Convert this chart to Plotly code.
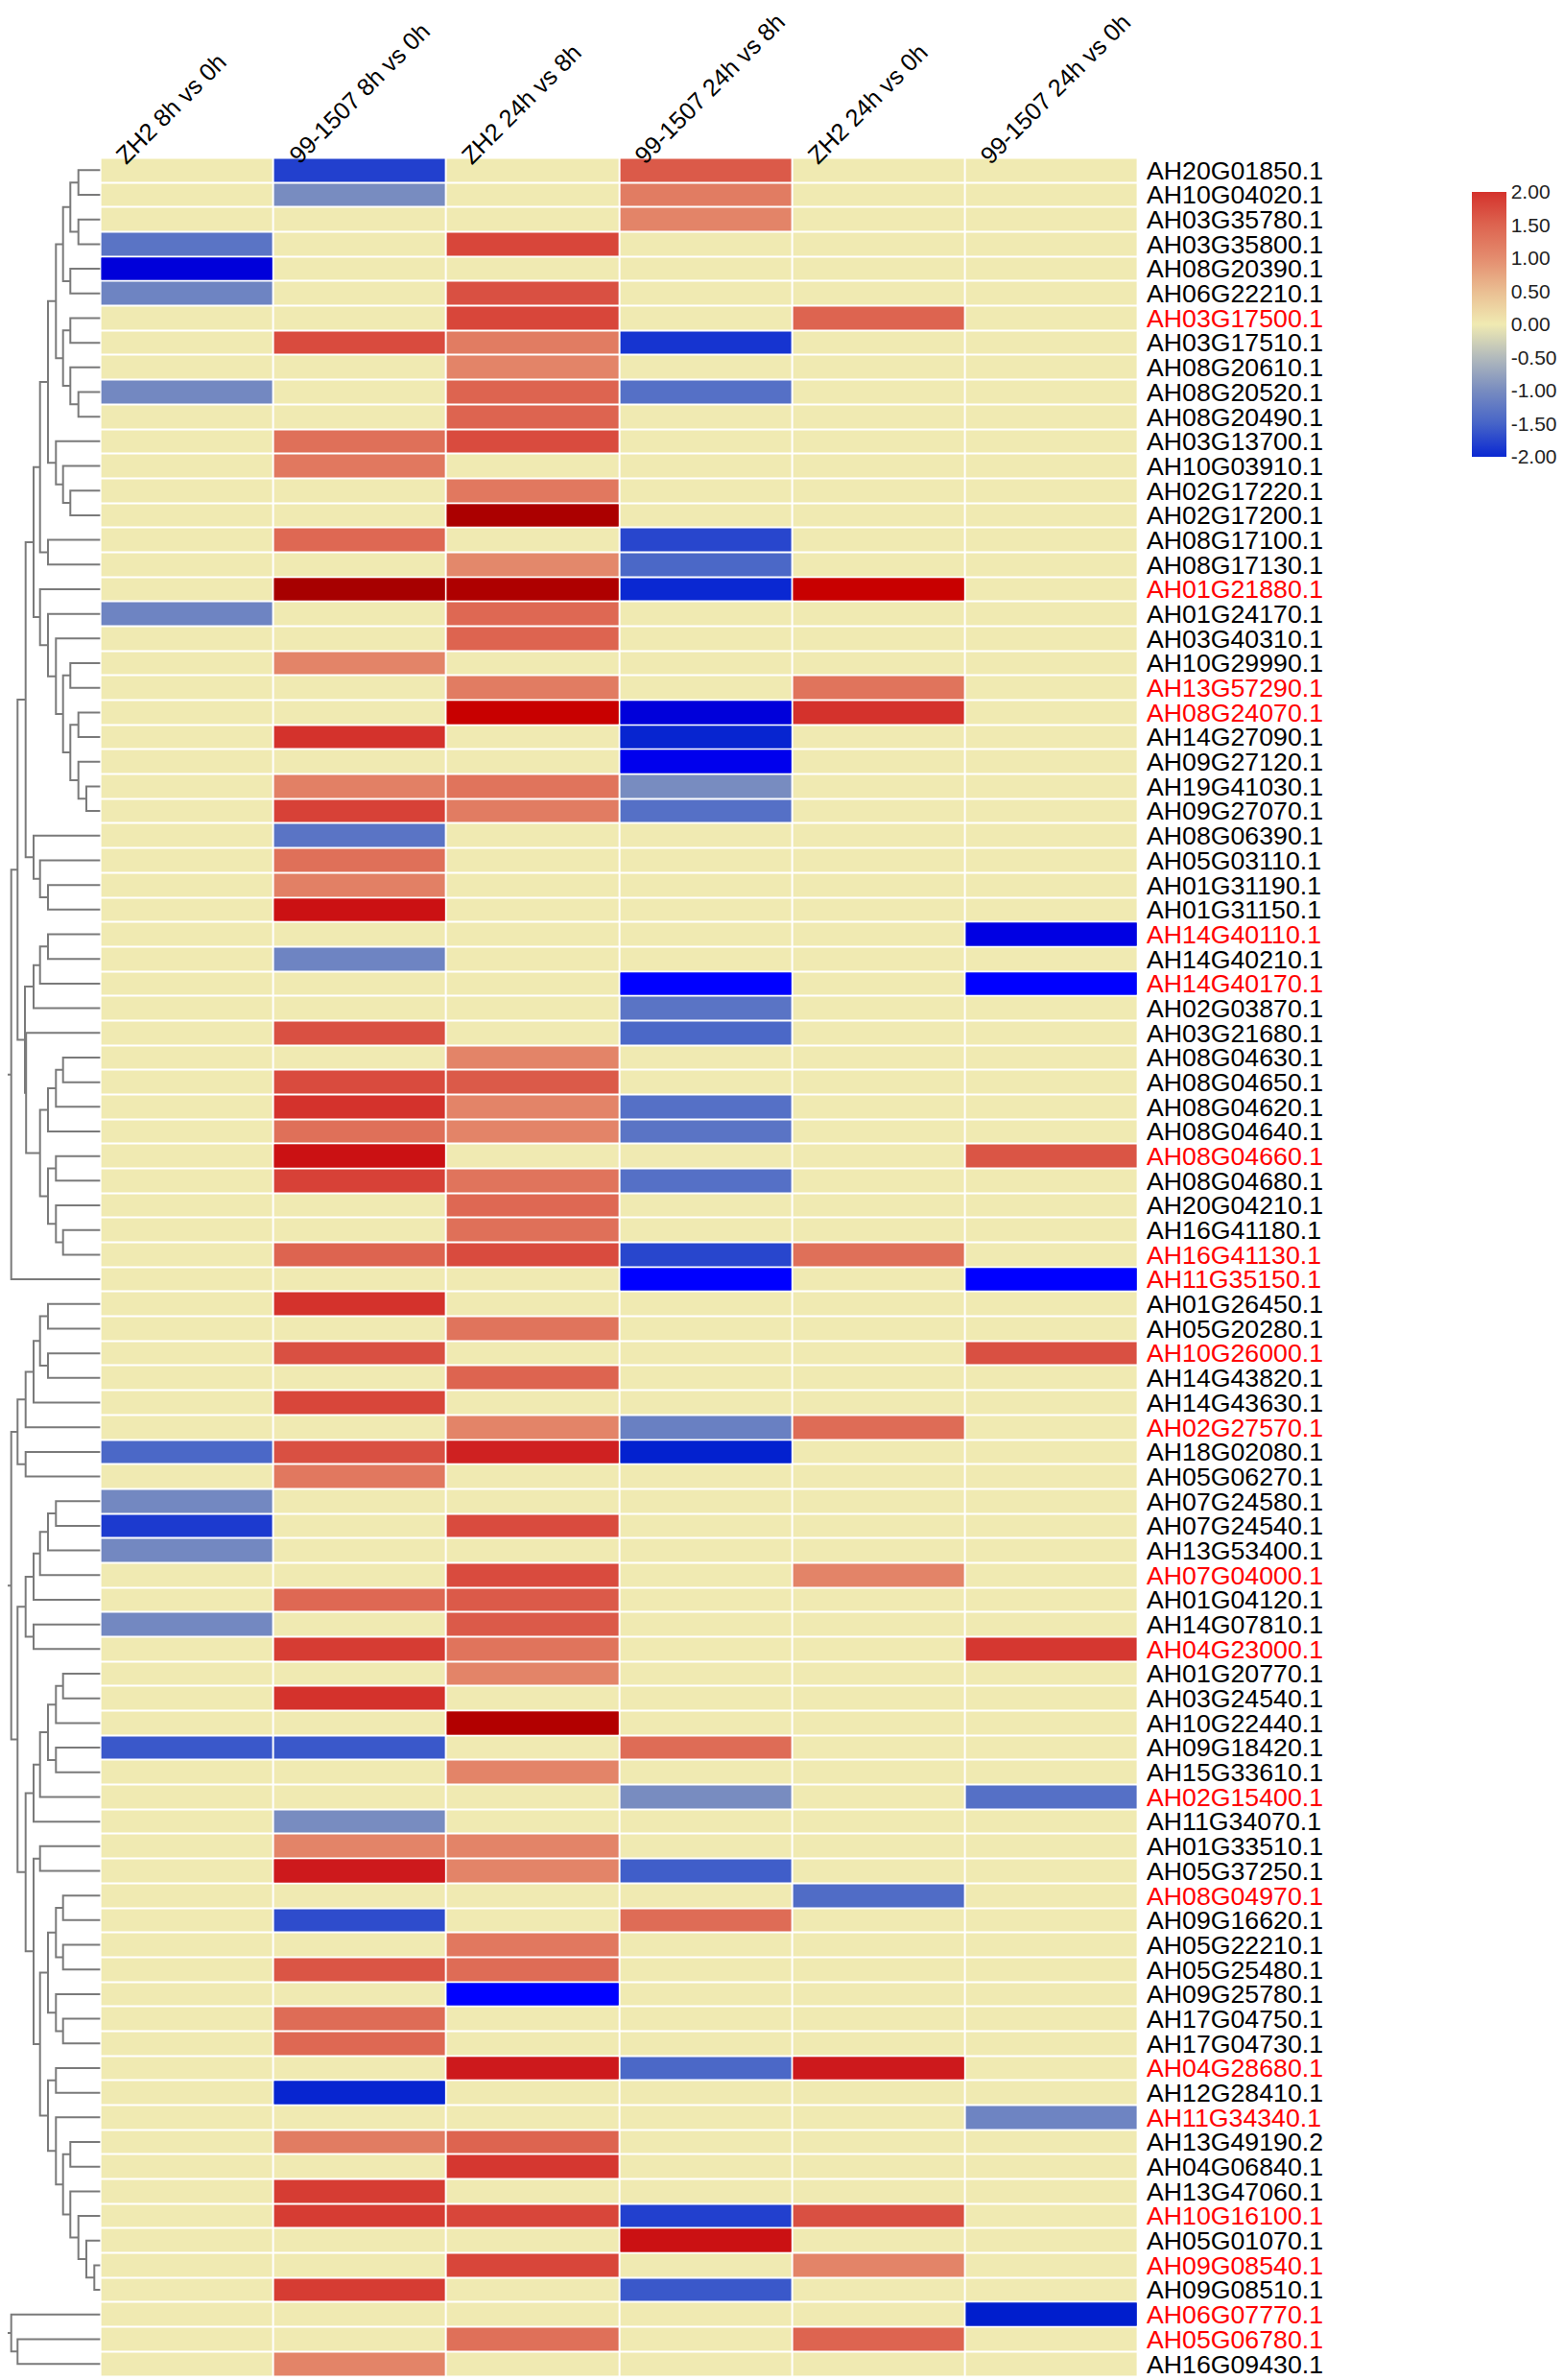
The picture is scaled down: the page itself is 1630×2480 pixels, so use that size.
import plotly.graph_objects as go

columns = ["ZH2 8h vs 0h", "99-1507 8h vs 0h", "ZH2 24h vs 8h",
           "99-1507 24h vs 8h", "ZH2 24h vs 0h", "99-1507 24h vs 0h"]

genes = [
    "AH20G01850.1", "AH10G04020.1", "AH03G35780.1", "AH03G35800.1", "AH08G20390.1",
    "AH06G22210.1", "AH03G17500.1", "AH03G17510.1", "AH08G20610.1", "AH08G20520.1",
    "AH08G20490.1", "AH03G13700.1", "AH10G03910.1", "AH02G17220.1", "AH02G17200.1",
    "AH08G17100.1", "AH08G17130.1", "AH01G21880.1", "AH01G24170.1", "AH03G40310.1",
    "AH10G29990.1", "AH13G57290.1", "AH08G24070.1", "AH14G27090.1", "AH09G27120.1",
    "AH19G41030.1", "AH09G27070.1", "AH08G06390.1", "AH05G03110.1", "AH01G31190.1",
    "AH01G31150.1", "AH14G40110.1", "AH14G40210.1", "AH14G40170.1", "AH02G03870.1",
    "AH03G21680.1", "AH08G04630.1", "AH08G04650.1", "AH08G04620.1", "AH08G04640.1",
    "AH08G04660.1", "AH08G04680.1", "AH20G04210.1", "AH16G41180.1", "AH16G41130.1",
    "AH11G35150.1", "AH01G26450.1", "AH05G20280.1", "AH10G26000.1", "AH14G43820.1",
    "AH14G43630.1", "AH02G27570.1", "AH18G02080.1", "AH05G06270.1", "AH07G24580.1",
    "AH07G24540.1", "AH13G53400.1", "AH07G04000.1", "AH01G04120.1", "AH14G07810.1",
    "AH04G23000.1", "AH01G20770.1", "AH03G24540.1", "AH10G22440.1", "AH09G18420.1",
    "AH15G33610.1", "AH02G15400.1", "AH11G34070.1", "AH01G33510.1", "AH05G37250.1",
    "AH08G04970.1", "AH09G16620.1", "AH05G22210.1", "AH05G25480.1", "AH09G25780.1",
    "AH17G04750.1", "AH17G04730.1", "AH04G28680.1", "AH12G28410.1", "AH11G34340.1",
    "AH13G49190.2", "AH04G06840.1", "AH13G47060.1", "AH10G16100.1", "AH05G01070.1",
    "AH09G08540.1", "AH09G08510.1", "AH06G07770.1", "AH05G06780.1", "AH16G09430.1",
]

highlighted = [
    "AH03G17500.1", "AH01G21880.1", "AH13G57290.1", "AH08G24070.1", "AH14G40110.1",
    "AH14G40170.1", "AH08G04660.1", "AH16G41130.1", "AH11G35150.1", "AH10G26000.1",
    "AH02G27570.1", "AH07G04000.1", "AH04G23000.1", "AH02G15400.1", "AH08G04970.1",
    "AH04G28680.1", "AH11G34340.1", "AH10G16100.1", "AH09G08540.1", "AH06G07770.1",
    "AH05G06780.1",
]

zh2_8h_vs_0h = [
    0, 0, 0, -1.3, -2.6, -1.1, 0, 0, 0, -1.05,
    0, 0, 0, 0, 0, 0, 0, 0, -1.1, 0,
    0, 0, 0, 0, 0, 0, 0, 0, 0, 0,
    0, 0, 0, 0, 0, 0, 0, 0, 0, 0,
    0, 0, 0, 0, 0, 0, 0, 0, 0, 0,
    0, 0, -1.45, 0, -1.05, -1.85, -1.05, 0, 0, -1.05,
    0, 0, 0, 0, -1.6, 0, 0, 0, 0, 0,
    0, 0, 0, 0, 0, 0, 0, 0, 0, 0,
    0, 0, 0, 0, 0, 0, 0, 0, 0, 0,
]
l99_8h_vs_0h = [
    -1.8, -1.0, 0, 0, 0, 0, 0, 1.75, 0, 0,
    0, 1.35, 1.25, 0, 0, 1.45, 0, 3.3, 0, 0,
    1.1, 0, 0, 2.0, 0, 1.15, 1.85, -1.3, 1.35, 1.15,
    2.4, 0, -1.1, 0, 0, 1.7, 0, 1.75, 2.0, 1.35,
    2.4, 1.85, 0, 0, 1.5, 0, 2.0, 0, 1.7, 0,
    1.8, 0, 1.7, 1.25, 0, 0, 0, 0, 1.45, 0,
    1.9, 0, 2.05, 0, -1.6, 0, 0, -1.0, 1.1, 2.3,
    0, -1.7, 0, 1.65, 0, 1.4, 1.45, 0, -2.1, 0,
    1.2, 0, 1.9, 1.9, 0, 0, 1.9, 0, 0, 1.1,
]
zh2_24h_vs_8h = [
    0, 0, 0, 1.8, 0, 1.7, 1.8, 1.2, 1.1, 1.5,
    1.5, 1.75, 0, 1.25, 3.2, 0, 1.05, 3.1, 1.45, 1.5,
    0, 1.2, 2.6, 0, 0, 1.3, 1.2, 0, 0, 0,
    0, 0, 0, 0, 0, 0, 1.1, 1.6, 1.1, 1.1,
    0, 1.3, 1.45, 1.35, 1.75, 0, 0, 1.3, 0, 1.5,
    0, 1.1, 2.2, 0, 0, 1.75, 0, 1.75, 1.6, 1.6,
    1.3, 1.1, 0, 3.0, 0, 1.1, 0, 0, 1.1, 1.1,
    0, 0, 1.25, 1.4, -3.0, 0, 0, 2.3, 0, 0,
    1.5, 1.95, 0, 1.8, 0, 1.8, 0, 0, 1.35, 0,
]
l99_24h_vs_8h = [
    1.6, 1.2, 1.1, 0, 0, 0, 0, -1.9, 0, -1.35,
    0, 0, 0, 0, 0, -1.75, -1.45, -2.05, 0, 0,
    0, 0, -2.6, -2.1, -2.8, -1.0, -1.35, 0, 0, 0,
    0, 0, 0, -3.0, -1.3, -1.45, 0, 0, -1.35, -1.3,
    0, -1.35, 0, 0, -1.75, -3.0, 0, 0, 0, 0,
    0, -1.15, -2.2, 0, 0, 0, 0, 0, 0, 0,
    0, 0, 0, 0, 1.4, 0, -1.0, 0, 0, -1.55,
    0, 1.4, 0, 0, 0, 0, 0, -1.45, 0, 0,
    0, 0, 0, -1.8, 2.4, 0, -1.6, 0, 0, 0,
]
zh2_24h_vs_0h = [
    0, 0, 0, 0, 0, 0, 1.5, 0, 0, 0,
    0, 0, 0, 0, 0, 0, 0, 2.6, 0, 0,
    0, 1.3, 2.0, 0, 0, 0, 0, 0, 0, 0,
    0, 0, 0, 0, 0, 0, 0, 0, 0, 0,
    0, 0, 0, 0, 1.35, 0, 0, 0, 0, 0,
    0, 1.4, 0, 0, 0, 0, 0, 1.1, 0, 0,
    0, 0, 0, 0, 0, 0, 0, 0, 0, 0,
    -1.4, 0, 0, 0, 0, 0, 0, 2.3, 0, 0,
    0, 0, 0, 1.7, 0, 1.1, 0, 0, 1.5, 0,
]
l99_24h_vs_0h = [
    0, 0, 0, 0, 0, 0, 0, 0, 0, 0,
    0, 0, 0, 0, 0, 0, 0, 0, 0, 0,
    0, 0, 0, 0, 0, 0, 0, 0, 0, 0,
    0, -2.7, 0, -3.0, 0, 0, 0, 0, 0, 0,
    1.65, 0, 0, 0, 0, -3.0, 0, 0, 1.7, 0,
    0, 0, 0, 0, 0, 0, 0, 0, 0, 0,
    1.95, 0, 0, 0, 0, 0, -1.35, 0, 0, 0,
    0, 0, 0, 0, 0, 0, 0, 0, 0, -1.1,
    0, 0, 0, 0, 0, 0, 0, -2.3, 0, 0,
]

colorbar_ticks = [2.0, 1.5, 1.0, 0.5, 0.0, -0.5, -1.0, -1.5, -2.0]

# Row dendrogram merges: (name, merge position, left child, right child).
# Integers are row indices (leaves), strings refer to earlier merges.
merges = [
    ("a1", 81.7, 0, 1), ("a2", 81.7, 2, 3), ("A", 73.3, "a1", "a2"),
    ("B", 73.3, 4, 5), ("AB", 65.7, "A", "B"),
    ("C", 73.3, 6, 7), ("d1", 81.7, 9, 10), ("D", 73.3, 8, "d1"),
    ("CD", 65.7, "C", "D"), ("E", 58.3, "AB", "CD"),
    ("f1", 73.3, 13, 14), ("f2", 65.7, 12, "f1"), ("F", 58.3, 11, "f2"),
    ("EF", 50, "E", "F"), ("G", 50, 15, 16), ("EFG", 41.7, "EF", "G"),
    ("i1", 90, 25, 26), ("i2", 81.7, 24, "i1"), ("i3", 81.7, 22, 23),
    ("i4", 73.3, "i3", "i2"), ("i5", 73.3, 20, 21), ("i6", 65.7, "i5", "i4"),
    ("i7", 58.3, 19, "i6"), ("I", 50, 18, "i7"), ("J", 41.7, 17, "I"),
    ("EJ", 35, "EFG", "J"),
    ("k1", 50, 29, 30), ("k2", 41.7, 28, "k1"), ("K", 35, 27, "k2"),
    ("T1", 26.7, "EJ", "K"),
    ("l1", 50, 31, 32), ("l2", 41.7, "l1", 33), ("L", 35, "l2", 34),
    ("m1", 65.7, 36, 37), ("m2", 58.3, "m1", 38), ("m3", 50, "m2", 39),
    ("m4", 58.3, 40, 41), ("m5", 65.7, 43, 44), ("m6", 58.3, 42, "m5"),
    ("m7", 50, "m4", "m6"), ("M", 41.7, "m3", "m7"),
    ("N", 27.2, 35, "M"), ("LN", 26.0, "L", "N"),
    ("T2", 18.3, "T1", "LN"), ("U", 11.7, "T2", 45),
    ("q1", 50, 46, 47), ("q2", 50, 48, 49), ("q3", 41.7, "q1", "q2"),
    ("q4", 35, "q3", 50), ("q5", 26.7, "q4", 51), ("q6", 26.7, 52, 53),
    ("Q1", 18.3, "q5", "q6"),
    ("p1", 58.3, 54, 55), ("p2", 50, "p1", 56), ("p3", 41.7, "p2", 57),
    ("p4", 35, "p3", 58), ("p5", 35, 59, 60), ("P", 26.7, "p4", "p5"),
    ("r1", 65.7, 61, 62), ("r2", 58.3, "r1", 63), ("r3", 58.3, 64, 65),
    ("r4", 50, "r2", "r3"), ("r5", 41.7, "r4", 66), ("R", 35, "r5", 67),
    ("x1", 41.7, 68, 69),
    ("x2a", 65.7, 70, 71), ("x2b", 65.7, 72, 73), ("x2c", 58.3, "x2a", "x2b"),
    ("x2d", 65.7, 75, 76), ("x2e", 58.3, 74, "x2d"), ("X2", 50, "x2c", "x2e"),
    ("x3a", 58.3, 77, 78),
    ("v1", 98.3, 85, 86), ("v2", 90, 84, "v1"), ("v3", 81.7, 83, "v2"),
    ("v4", 73.3, 82, "v3"), ("v5", 73.3, 80, 81), ("v6", 65.7, "v5", "v4"),
    ("v7", 58.3, 79, "v6"), ("X3", 50, "x3a", "v7"),
    ("X23", 41.7, "X2", "X3"), ("X", 35, "x1", "X23"),
    ("RX", 26.7, "R", "X"), ("Q2", 18.3, "P", "RX"), ("Q", 11.7, "Q1", "Q2"),
    ("UQ", 7, "U", "Q"),
    ("z1", 18.3, 88, 89), ("Z", 11.7, 87, "z1"),
    ("root", 3, "UQ", "Z"),
]

# ---------------- geometry ----------------
# The page body has an 8px margin, so the figure is 8px smaller than the window
# and positions below are given in window pixels, then shifted by OFF.
OFF = 8
W, H = 1630 - OFF, 2480 - OFF
hm_left, hm_right = 104.6, 1186.0        # window pixels
hm_top, hm_bottom = 164.5, 2476.0
leaf_x = hm_left


def px(xw):
    return (xw - OFF) / W


def py(yw):
    return 1 - (yw - OFF) / H


cols = [zh2_8h_vs_0h, l99_8h_vs_0h, zh2_24h_vs_8h, l99_24h_vs_8h, zh2_24h_vs_0h, l99_24h_vs_0h]
n = len(genes)
z_main = [[cols[c][r] for c in range(6)] for r in range(n)]
z_over = [[(v if abs(v) > 2.05 else None) for v in row] for row in z_main]

cs_main = [
    [0.0, "rgb(10,40,210)"],
    [0.125, "rgb(70,100,200)"],
    [0.25, "rgb(120,140,192)"],
    [0.375, "rgb(178,186,188)"],
    [0.5, "rgb(240,234,178)"],
    [0.625, "rgb(234,190,146)"],
    [0.75, "rgb(228,140,110)"],
    [0.875, "rgb(221,100,80)"],
    [1.0, "rgb(212,50,44)"],
]
cs_over = [
    [0.0, "rgb(0,0,255)"],
    [0.0714, "rgb(0,0,255)"],
    [0.1286, "rgb(0,0,218)"],
    [0.1714, "rgb(0,30,205)"],
    [0.2143, "rgb(10,40,210)"],
    [0.5, "rgb(240,234,178)"],
    [0.7857, "rgb(212,50,44)"],
    [0.8286, "rgb(205,25,28)"],
    [0.8714, "rgb(200,0,0)"],
    [0.9286, "rgb(178,0,0)"],
    [1.0, "rgb(160,0,0)"],
]

font_family = "Liberation Sans, Arial, sans-serif"

fig = go.Figure()
fig.add_trace(go.Heatmap(
    z=z_main, x=list(range(6)), y=list(range(n)),
    zmin=-2, zmax=2, colorscale=cs_main, xgap=2, ygap=2, hoverinfo="skip",
    colorbar=dict(
        x=px(1534), xanchor="left", y=py(200), yanchor="top",
        len=276 / H, lenmode="fraction", thickness=36, thicknessmode="pixels",
        outlinewidth=0, xpad=0, ypad=0, ticks="",
        tickvals=colorbar_ticks, ticktext=["%.2f" % t for t in colorbar_ticks],
        tickfont=dict(family=font_family, size=21, color="#222"),
    ),
))
fig.add_trace(go.Heatmap(
    z=z_over, x=list(range(6)), y=list(range(n)),
    zmin=-3.5, zmax=3.5, colorscale=cs_over, xgap=2, ygap=2,
    showscale=False, hoverinfo="skip",
))

# dendrogram segments from the merge list
pos = {}
seg_x, seg_y = [], []


def node_pos(ref):
    if isinstance(ref, int):
        return float(ref), leaf_x
    return pos[ref]


for name, h, a, b in merges:
    ya, xa = node_pos(a)
    yb, xb = node_pos(b)
    seg_x.extend([xa, h, h, xb, None])
    seg_y.extend([ya, ya, yb, yb, None])
    pos[name] = ((ya + yb) / 2.0, h)

fig.add_trace(go.Scatter(
    x=seg_x, y=seg_y, xaxis="x2", yaxis="y", mode="lines",
    line=dict(color="#7a7a7a", width=2), hoverinfo="skip", showlegend=False,
))


def lab(g):
    if g in highlighted:
        return '<span style="color:#FF0000">%s</span>' % g
    return g


fig.update_layout(
    width=W, height=H,
    margin=dict(l=0, r=0, t=0, b=0, autoexpand=False),
    paper_bgcolor="white", plot_bgcolor="white",
    showlegend=False,
    xaxis=dict(domain=[px(hm_left), px(hm_right)], range=[-0.5, 5.5],
               showticklabels=False, showgrid=False, zeroline=False, ticks=""),
    xaxis2=dict(domain=[0, px(hm_left)], range=[OFF, leaf_x], anchor="y",
                visible=False),
    yaxis=dict(domain=[py(hm_bottom), py(hm_top)], range=[n - 0.5, -0.5],
               side="right", tickmode="array", tickvals=list(range(n)),
               ticktext=[lab(g) for g in genes], ticks="", showgrid=False,
               zeroline=False, ticklabelstandoff=8,
               tickfont=dict(family=font_family, size=26.7, color="#000")),
)

col_w = (hm_right - hm_left) / len(columns)
for i, c in enumerate(columns):
    fig.add_annotation(
        x=px(hm_left + i * col_w + 9), y=py(177), xref="paper", yref="paper",
        text=c, showarrow=False, textangle=-45, borderpad=0,
        xanchor="left", yanchor="bottom",
        font=dict(family=font_family, size=25.2, color="#000"),
    )

fig.write_html("out.html")
